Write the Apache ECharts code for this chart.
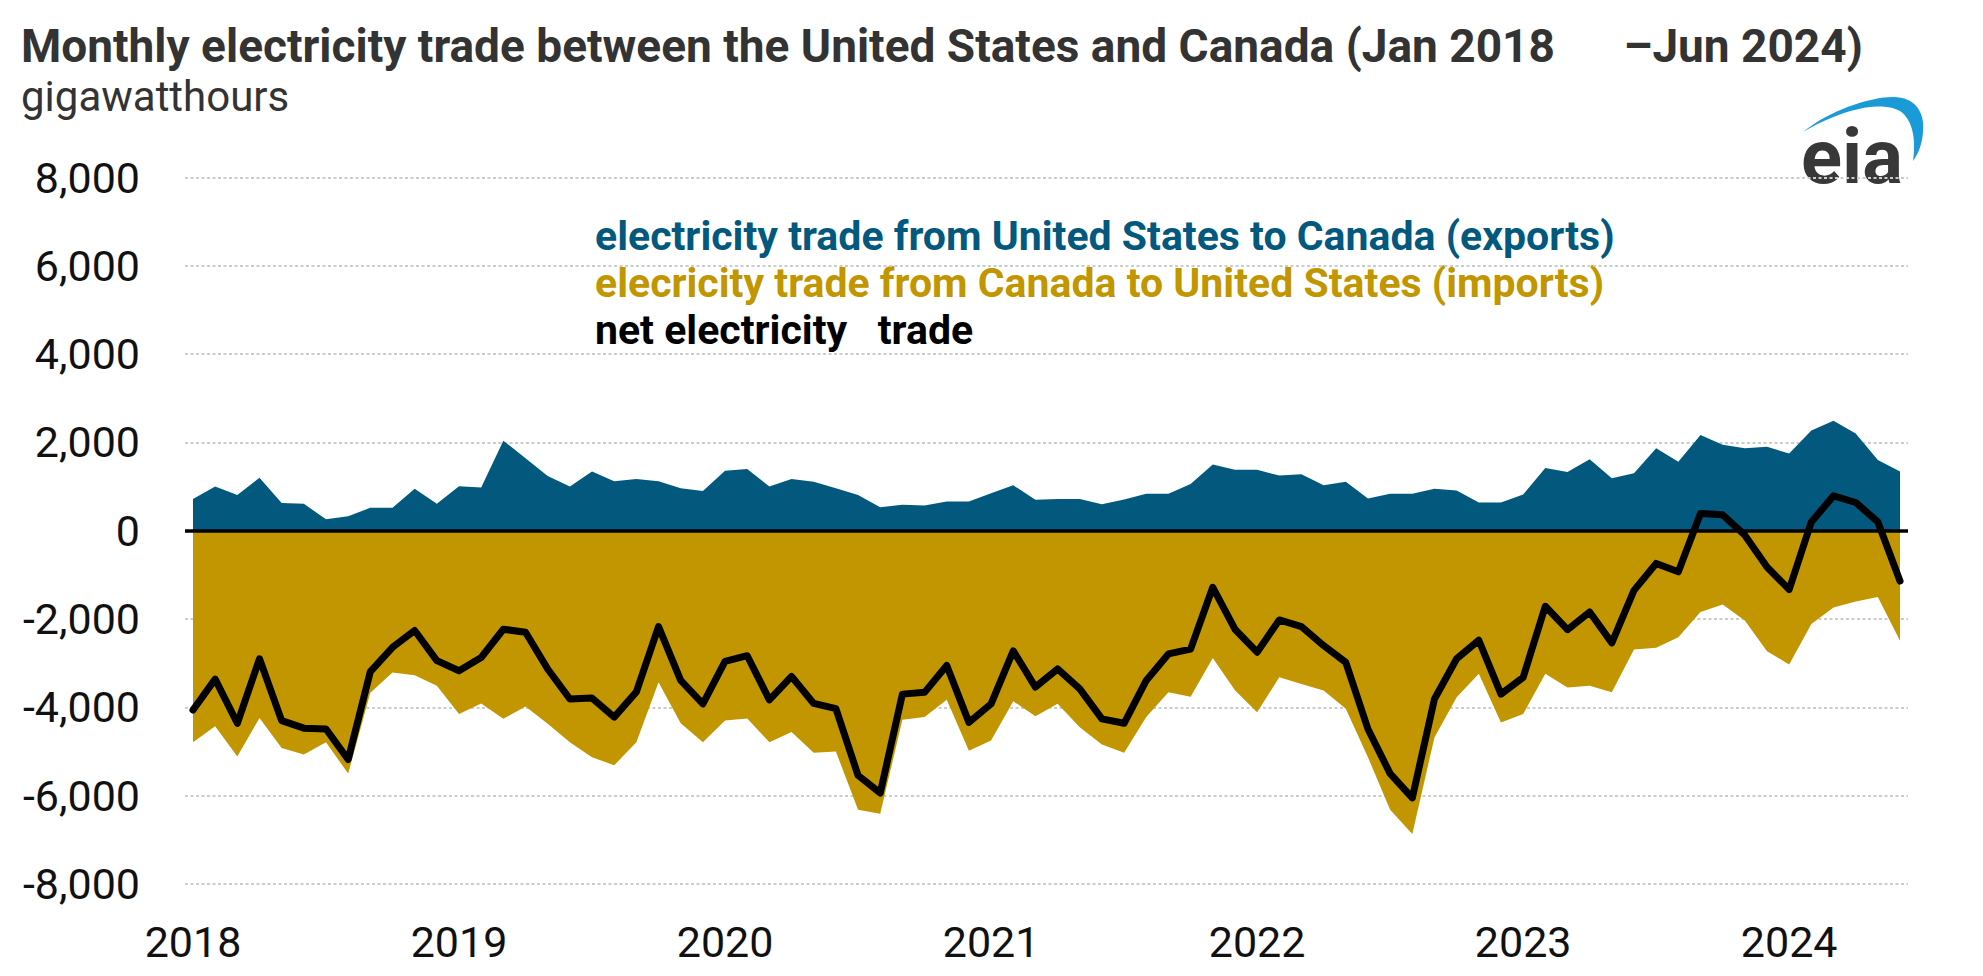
<!DOCTYPE html>
<html>
<head>
<meta charset="utf-8">
<script src="https://cdn.jsdelivr.net/npm/echarts@6/dist/echarts.min.js"></script>
<style>
  html, body { margin: 0; padding: 0; background: #fff; }
  #chart { width: 1983px; height: 976px; }
</style>
</head>
<body>
<div id="chart"></div>
<script>
// Jan 2018 .. Jun 2024, monthly (78 points), gigawatthours
const months = [];
for (let y = 2018; y <= 2024; y++) {
  for (let m = 1; m <= 12; m++) {
    if (y === 2024 && m > 6) break;
    months.push(y + '-' + String(m).padStart(2, '0'));
  }
}

const exportsGWh = [
  720, 1000, 810, 1200, 630, 610, 260, 330, 520, 520, 950, 610,
  1010, 980, 2040, 1640, 1240, 1000, 1340, 1120, 1170, 1120, 960, 900,
  1360, 1400, 1000, 1170, 1110, 960, 810, 530, 590, 570, 660, 660,
  850, 1030, 700, 720, 720, 600, 710, 840, 840, 1060, 1500, 1380,
  1380, 1250, 1280, 1030, 1110, 730, 840, 840, 950, 910, 640, 640,
  820, 1420, 1330, 1620, 1190, 1300, 1870, 1560, 2170, 1950, 1870, 1900,
  1750, 2270, 2490, 2200, 1600, 1340
];

const importsGWh = [
  -4790, -4430, -5110, -4240, -4920, -5070, -4790, -5500, -3670, -3210, -3270, -3510,
  -4150, -3910, -4260, -3980, -4370, -4790, -5130, -5310, -4790, -3430, -4360, -4790,
  -4300, -4250, -4790, -4560, -5030, -5000, -6320, -6410, -4280, -4220, -3830, -4980,
  -4750, -3860, -4200, -3920, -4450, -4840, -5030, -4220, -3660, -3760, -2880, -3610,
  -4110, -3320, -3470, -3620, -4030, -5130, -6320, -6870, -4680, -3770, -3240, -4340,
  -4150, -3240, -3550, -3510, -3660, -2690, -2650, -2410, -1840, -1670, -2030, -2730,
  -3030, -2110, -1740, -1600, -1500, -2490
];

const netGWh = [
  -4060, -3360, -4360, -2900, -4300, -4470, -4490, -5180, -3190, -2640, -2260, -2940,
  -3170, -2870, -2230, -2300, -3130, -3810, -3790, -4220, -3650, -2170, -3390, -3920,
  -2960, -2830, -3830, -3300, -3910, -4030, -5540, -5940, -3700, -3660, -3050, -4340,
  -3920, -2720, -3540, -3130, -3580, -4260, -4360, -3390, -2790, -2680, -1280, -2230,
  -2750, -2020, -2170, -2600, -2980, -4490, -5500, -6050, -3810, -2900, -2480, -3700,
  -3320, -1710, -2240, -1840, -2540, -1350, -740, -930, 390, 360, -100, -820,
  -1330, 200, 790, 640, 200, -1140
];

const yearLabels = ['2018', '2019', '2020', '2021', '2022', '2023', '2024'];
const yearTickIndex = [0, 12, 24, 36, 48, 60, 72];

const titleText = 'Monthly electricity trade between the United States and Canada (Jan 2018      \u2013Jun 2024)';
const unitText = 'gigawatthours';
const legendLines = [
  'electricity trade from United States to Canada (exports)',
  'elecricity trade from Canada to United States (imports)',
  'net electricity   trade'
];

const BLUE = '#03587e';
const GOLD = '#c19600';
const FONT = 'Roboto, "Noto Sans", sans-serif';

const toPairs = arr => arr.map((v, i) => [i, v]);

// EIA logo swoosh (decoration): sample cubic Bezier outlines into a polygon
function bezierPts(p0, p1, p2, p3, n) {
  const out = [];
  for (let k = 0; k <= n; k++) {
    const t = k / n, u = 1 - t;
    out.push([
      u*u*u*p0[0] + 3*u*u*t*p1[0] + 3*u*t*t*p2[0] + t*t*t*p3[0],
      u*u*u*p0[1] + 3*u*u*t*p1[1] + 3*u*t*t*p2[1] + t*t*t*p3[1]
    ]);
  }
  return out;
}
const swooshSegs = [
  [[1803,132],[1830,110],[1870,97],[1893,97]],
  [[1893,97],[1915,97],[1925,112],[1923,132]],
  [[1923,132],[1922,145],[1918,154],[1913,161]],
  [[1913,161],[1916,140],[1913,120],[1900,111]],
  [[1900,111],[1880,100],[1840,110],[1803,132]]
];
let swooshPts = [];
swooshSegs.forEach(s => { swooshPts = swooshPts.concat(bezierPts(s[0], s[1], s[2], s[3], 16)); });

const chart = echarts.init(document.getElementById('chart'), null, { renderer: 'svg' });

chart.setOption({
  animation: false,
  backgroundColor: '#ffffff',
  textStyle: { fontFamily: FONT },
  grid: { left: 185, right: 75, top: 177.5, bottom: 92, containLabel: false },
  xAxis: {
    type: 'value',
    min: -0.36,
    max: 77.36,
    axisLine: { show: false },
    axisTick: { show: false },
    splitLine: { show: false },
    axisLabel: {
      customValues: yearTickIndex,
      formatter: v => yearLabels[Math.round(v / 12)],
      color: '#111',
      fontSize: 43,
      fontFamily: FONT,
      margin: 36
    }
  },
  yAxis: {
    type: 'value',
    min: -8000,
    max: 8000,
    interval: 2000,
    axisLine: { show: false },
    axisTick: { show: false },
    splitLine: { show: true, lineStyle: { color: '#cccccc', width: 2, type: [3, 2.5] } },
    axisLabel: {
      formatter: v => v.toLocaleString('en-US'),
      color: '#111',
      fontSize: 43,
      fontFamily: FONT,
      margin: 45
    }
  },
  series: [
    {
      name: legendLines[0],
      type: 'line',
      data: toPairs(exportsGWh),
      showSymbol: false,
      symbol: 'none',
      lineStyle: { width: 0 },
      areaStyle: { color: BLUE, opacity: 1, origin: 0 },
      z: 2
    },
    {
      name: legendLines[1],
      type: 'line',
      data: toPairs(importsGWh),
      showSymbol: false,
      symbol: 'none',
      lineStyle: { width: 0 },
      areaStyle: { color: GOLD, opacity: 1, origin: 0 },
      z: 2
    },
    {
      name: legendLines[2],
      type: 'line',
      data: toPairs(netGWh),
      showSymbol: false,
      symbol: 'none',
      lineStyle: { color: '#000', width: 7, join: 'round', cap: 'round' },
      z: 4,
      markLine: {
        silent: true,
        symbol: ['none', 'none'],
        label: { show: false },
        lineStyle: { color: '#000', width: 3.5, type: 'solid' },
        data: [{ yAxis: 0 }]
      }
    }
  ],
  graphic: [
    { type: 'text', x: 21, y: 46, style: { text: titleText, font: 'bold 46px ' + FONT, fill: '#333', verticalAlign: 'middle' } },
    { type: 'text', x: 21, y: 96, style: { text: unitText, font: '42px ' + FONT, fill: '#333', verticalAlign: 'middle' } },
    { type: 'text', x: 595, y: 236, style: { text: legendLines[0], font: 'bold 41px ' + FONT, fill: BLUE, verticalAlign: 'middle' } },
    { type: 'text', x: 595, y: 283, style: { text: legendLines[1], font: 'bold 41px ' + FONT, fill: GOLD, verticalAlign: 'middle' } },
    { type: 'text', x: 595, y: 330, style: { text: legendLines[2], font: 'bold 41px ' + FONT, fill: '#000', verticalAlign: 'middle' } },
    { type: 'polygon', shape: { points: swooshPts }, style: { fill: '#1a9ad6' } },
    { type: 'text', x: 1801, y: 157, style: { text: 'eia', font: 'bold 76px ' + FONT, fill: '#383838', verticalAlign: 'middle' } }
  ]
});
</script>
</body>
</html>
